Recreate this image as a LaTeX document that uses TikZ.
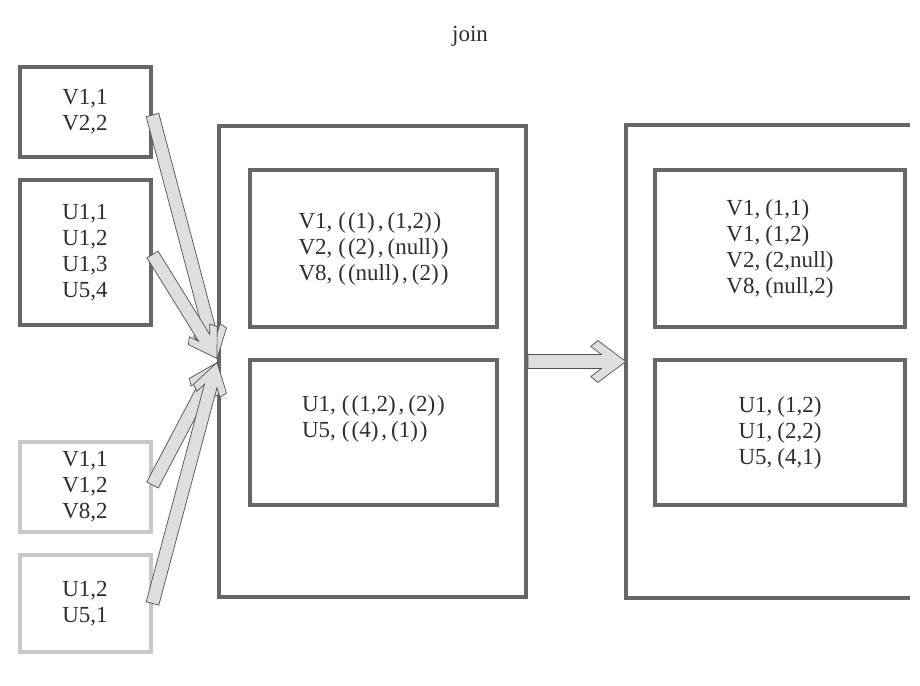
\documentclass[tikz,border=0pt]{standalone}
\usepackage{fontspec}
\setmainfont{Liberation Serif}
\usetikzlibrary{calc}
\definecolor{boxdark}{HTML}{666666}
\definecolor{boxlight}{HTML}{C8C8C8}
\definecolor{arrfill}{HTML}{DEDEDE}
\definecolor{arrline}{HTML}{505050}
\definecolor{txt}{HTML}{2E2E2E}
\tikzset{
  darkbox/.style={draw=boxdark, line width=4pt, text=txt, align=center,
    font=\fontsize{23}{26}\selectfont, inner sep=0pt},
  lightbox/.style={darkbox, draw=boxlight},
  leftbox/.style={darkbox, align=left},
  outerline/.style={draw=boxdark, line width=4pt, line join=miter},
  blockarr/.style={fill=arrfill, draw=arrline, line width=0.7pt, line join=miter},
  lbl/.style={text=txt, font=\fontsize{23}{26}\selectfont, inner sep=0pt},
}
% #1 start, #2 tip, #3 half shaft width, #4 half head width, #5 head length,
% #6 extra back length of inner barb end, #7 barb thickness offset
\newcommand{\blkarrow}[7]{%
  \pgfmathsetmacro{\baDj}{(#5+#6)-(#4-#7-#3)*#5/#4}%
  \pgfmathsetmacro{\baDi}{#5+#6}%
  \pgfmathsetmacro{\baTi}{#4-#7}%
  \coordinate (ba-j) at ($(#2)!\baDj pt!(#1)$);
  \coordinate (ba-i) at ($(#2)!\baDi pt!(#1)$);
  \coordinate (ba-o) at ($(#2)!#5pt!(#1)$);
  \draw[blockarr] ($(#1)!#3pt!90:(#2)$) -- ($(ba-j)!#3pt!-90:(#1)$)
    -- ($(ba-i)!\baTi pt!-90:(#1)$) -- ($(ba-o)!#4pt!-90:(#1)$) -- (#2)
    -- ($(ba-o)!#4pt!90:(#1)$) -- ($(ba-i)!\baTi pt!90:(#1)$)
    -- ($(ba-j)!#3pt!90:(#1)$) -- ($(#1)!#3pt!-90:(#2)$) -- cycle;
}
\begin{document}
\begin{tikzpicture}[x=1pt, y=-1pt]
\useasboundingbox (0,0) rectangle (920,685);
\fill[white] (0,0) rectangle (920,685);

\node[lbl] (join) at (470,36) {join};

% left input boxes
\node[darkbox, minimum width=131pt, minimum height=90pt] (A) at (85,112) {V1,1\\V2,2};
\node[darkbox, minimum width=131pt, minimum height=145pt] (B) at (85,252.5) {U1,1\\U1,2\\U1,3\\U5,4};
\node[lightbox, minimum width=131pt, minimum height=90pt] (C) at (85,487) {V1,1\\V1,2\\V8,2};
\node[lightbox, minimum width=131pt, minimum height=97pt] (D) at (85,603.5) {U1,2\\U5,1};

% middle container
\node[darkbox, minimum width=307pt, minimum height=471pt] (mid) at (372.5,361.5) {};
\node[leftbox, minimum width=247pt, minimum height=157pt] (m1) at (373.5,248.5)
  {V1,\hspace{6pt}(\hspace{2pt}(1)\hspace{3pt},\hspace{4pt}(1,2)\hspace{2pt})\\
   V2,\hspace{6pt}(\hspace{2pt}(2)\hspace{3pt},\hspace{4pt}(null)\hspace{2pt})\\
   V8,\hspace{6pt}(\hspace{2pt}(null)\hspace{3pt},\hspace{4pt}(2)\hspace{2pt})};
\node[leftbox, minimum width=247pt, minimum height=145pt] (m2) at (373.5,432.5)
  {U1,\hspace{6pt}(\hspace{2pt}(1,2)\hspace{3pt},\hspace{4pt}(2)\hspace{2pt})\\
   U5,\hspace{6pt}(\hspace{2pt}(4)\hspace{3pt},\hspace{4pt}(1)\hspace{2pt})\\[6pt]};

% right container (open on the right)
\node[inner sep=0pt, minimum width=284pt, minimum height=473pt] (rout) at (768,361.5) {};
\draw[outerline] (rout.north east) -- (rout.north west) -- (rout.south west) -- (rout.south east);
\node[leftbox, minimum width=250pt, minimum height=157pt] (r1) at (780,248.5)
  {V1,\hspace{5pt}(1,1)\\V1,\hspace{5pt}(1,2)\\V2,\hspace{5pt}(2,null)\\V8,\hspace{5pt}(null,2)};
\node[leftbox, minimum width=250pt, minimum height=145pt] (r2) at (780,432.5)
  {U1,\hspace{5pt}(1,2)\\U1,\hspace{5pt}(2,2)\\U5,\hspace{5pt}(4,1)};

% join point
\coordinate (jt) at ($(mid.west)+(0,-3)$);
\coordinate (jb) at ($(mid.west)+(0,1)$);
\coordinate (sA) at ($(A.east)+(0,3)$);
\coordinate (sB) at ($(B.east)+(0,2)$);
\coordinate (sC) at ($(C.east)+(0,-2)$);
\coordinate (sD) at (D.east);

\blkarrow{sA}{jt}{6.5}{17}{27}{6}{5}
\blkarrow{sB}{jt}{6.5}{17}{27}{6}{5}
\blkarrow{sC}{jb}{6.5}{17}{27}{6}{5}
\blkarrow{sD}{jb}{6.5}{17}{27}{6}{5}

\blkarrow{mid.east}{rout.west}{7}{21}{28}{7}{6}
\end{tikzpicture}
\end{document}
